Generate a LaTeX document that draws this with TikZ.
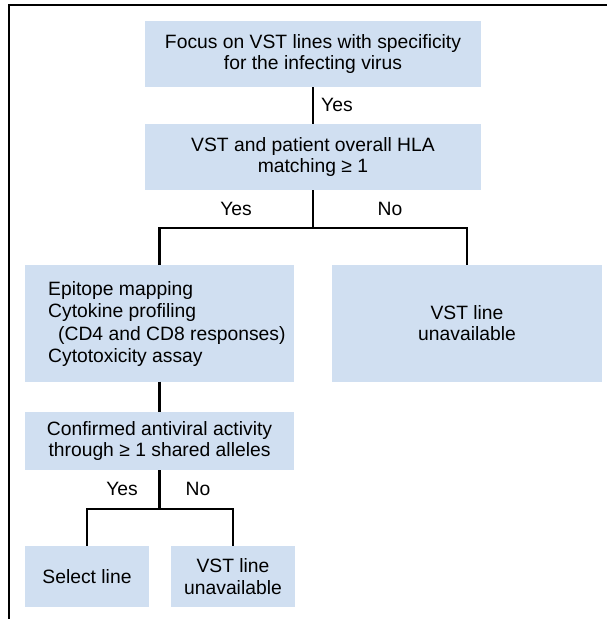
\documentclass[tikz,border=0pt]{standalone}
\usepackage{fontspec}
\setmainfont{Liberation Sans}
\definecolor{boxblue}{RGB}{208,223,241}
\begin{document}
\begin{tikzpicture}[x=1pt,y=-1pt,
  box/.style={fill=boxblue, draw=none, inner sep=0pt, align=center,
    font=\fontsize{19.3}{21.5}\selectfont},
  conn/.style={line width=2.3pt, line join=miter},
  lbl/.style={inner sep=0pt, font=\fontsize{19.3}{21.5}\selectfont},
  frameline/.style={line width=1.2pt}]
\useasboundingbox (0,0) rectangle (607,619);
% frame
\coordinate (fa) at (9,619);
\coordinate (fb) at (9,5);
\coordinate (fc) at (607,5);
\draw[frameline] (fa) -- (fb) -- (fc);
% boxes
\node[box, minimum width=336pt, minimum height=66pt] (b1) at (313,54)
  {Focus on VST lines with specificity\\for the infecting virus};
\node[box, minimum width=336pt, minimum height=66pt] (b2) at (313,157)
  {VST and patient overall HLA\\matching ≥ 1};
\node[box, minimum width=269pt, minimum height=116.5pt] (b3) at (159.5,323.25) {};
\node[lbl, anchor=west, align=left, font=\fontsize{19.3}{22.3}\selectfont] (b3t) at (48,324)
  {Epitope mapping\\Cytokine profiling\\\hspace{10pt}(CD4 and CD8 responses)\\Cytotoxicity assay};
\node[box, minimum width=270pt, minimum height=116.5pt] (b4) at (467,323.25)
  {VST line\\unavailable};
\node[box, minimum width=269pt, minimum height=58pt] (b5) at (159.5,441)
  {Confirmed antiviral activity\\through ≥ 1 shared alleles};
\node[box, minimum width=124pt, minimum height=61pt] (b6) at (87,576.5)
  {Select line};
\node[box, minimum width=124pt, minimum height=61pt] (b7) at (233,576.5)
  {VST line\\unavailable};
% connectors
\coordinate (j1) at (313,228);
\coordinate (j2) at (159.5,509);
\draw[conn] (b1.south) -- (b2.north);
\draw[conn] (b2.south) -- (j1);
\draw[conn] (b3.north) |- (j1) -| (b4.north);
\draw[conn] (b3.south) -- (b5.north);
\draw[conn] (b5.south) -- (j2);
\draw[conn] (b6.north) |- (j2) -| (b7.north);
% labels
\node[lbl, anchor=west] (l1) at (321,105) {Yes};
\node[lbl] (l2) at (236,209) {Yes};
\node[lbl] (l3) at (390,209) {No};
\node[lbl] (l4) at (122,489) {Yes};
\node[lbl] (l5) at (198,489) {No};
\end{tikzpicture}
\end{document}
